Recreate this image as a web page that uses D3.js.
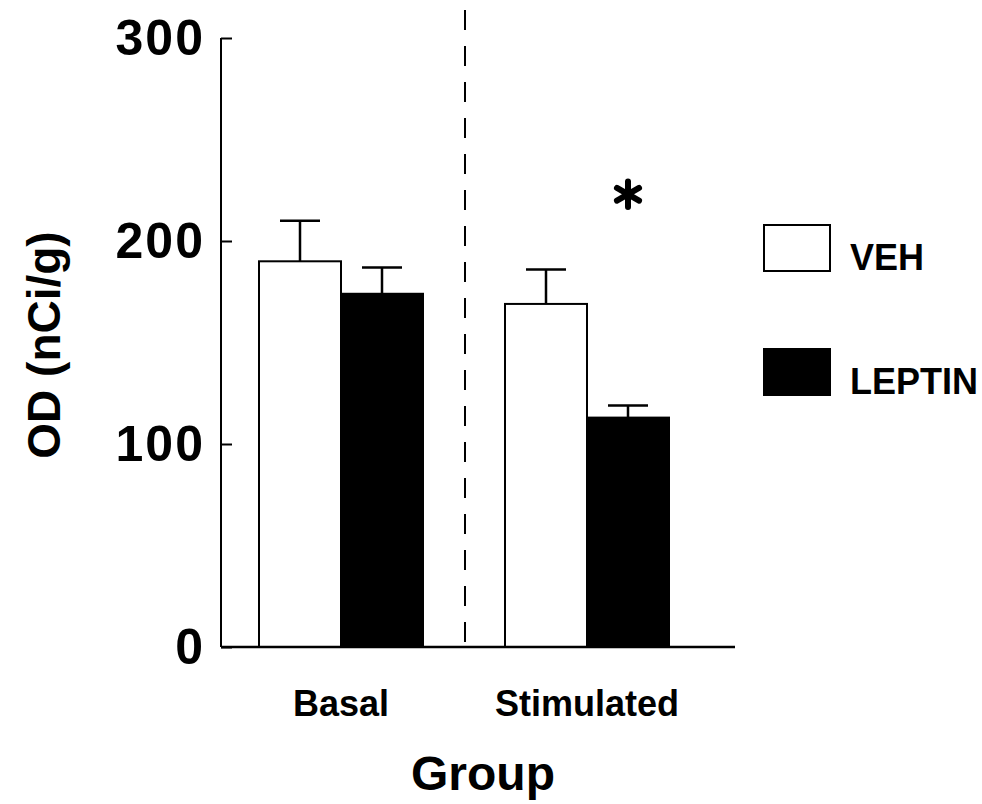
<!DOCTYPE html>
<html>
<head>
<meta charset="utf-8">
<script src="https://cdn.jsdelivr.net/npm/d3@7"></script>
<style>
  html, body { margin: 0; padding: 0; background: #fff; }
  svg { display: block; }
  text { font-family: "Liberation Sans", Arial, Helvetica, sans-serif; fill: #000; }
</style>
</head>
<body>
<svg id="chart" width="982" height="804"></svg>
<script>
// Groups, treatments and measured means with their error bars (OD, nCi/g)
const groups = ["Basal", "Stimulated"];
const treatments = ["VEH", "LEPTIN"];
const vehMeans = [190, 169];
const vehErrors = [20, 17];
const leptinMeans = [174, 113];
const leptinErrors = [13, 6];
const yTicks = [0, 100, 200, 300];
const significantValue = 223; // height of the "*" over Stimulated / LEPTIN

const rows = groups.flatMap((g, i) => [
  { group: g, treatment: "VEH", mean: vehMeans[i], err: vehErrors[i] },
  { group: g, treatment: "LEPTIN", mean: leptinMeans[i], err: leptinErrors[i] }
]);

const svg = d3.select("#chart");
const fill = { VEH: "#fff", LEPTIN: "#000" };

const y = d3.scaleLinear().domain([0, 300]).range([647, 38]);
const x0 = d3.scaleBand().domain(groups).range([218, 710]).padding(0);
const barW = 82;
const x1 = d3.scaleBand().domain(treatments)
  .range([x0.bandwidth() / 2 - barW, x0.bandwidth() / 2 + barW]).padding(0);

// Y axis with inward ticks
const yAxis = svg.append("g").attr("transform", "translate(221,0)")
  .call(d3.axisLeft(y).tickValues(yTicks).tickSize(-11).tickPadding(16));
yAxis.select(".domain").attr("stroke", "#000").attr("stroke-width", 2)
  .attr("d", `M0,${y(0)}V${y(300)}`);
yAxis.selectAll(".tick line").attr("stroke", "#000").attr("stroke-width", 2);
yAxis.selectAll(".tick text").attr("font-size", 50).attr("font-weight", "bold")
  .attr("letter-spacing", 2)
  .attr("font-family", "'Liberation Sans', Arial, sans-serif").attr("fill", "#000");

// Bars
const g = svg.append("g");
const groupsSel = g.selectAll("g.grp").data(groups).join("g")
  .attr("transform", d => `translate(${x0(d)},0)`);

groupsSel.selectAll("rect")
  .data(gr => rows.filter(r => r.group === gr))
  .join("rect")
  .attr("x", d => x1(d.treatment))
  .attr("y", d => y(d.mean))
  .attr("width", x1.bandwidth())
  .attr("height", d => y(0) - y(d.mean))
  .attr("fill", d => fill[d.treatment])
  .attr("stroke", "#000")
  .attr("stroke-width", 2);

// Error bars (upper only)
const capW = 40;
groupsSel.selectAll("path.err")
  .data(gr => rows.filter(r => r.group === gr))
  .join("path")
  .attr("class", "err")
  .attr("fill", "none")
  .attr("stroke", "#000")
  .attr("stroke-width", 2.5)
  .attr("d", d => {
    const cx = x1(d.treatment) + x1.bandwidth() / 2;
    return `M${cx},${y(d.mean)}V${y(d.mean + d.err)}M${cx - capW / 2},${y(d.mean + d.err)}H${cx + capW / 2}`;
  });

// X axis baseline
svg.append("line")
  .attr("x1", 221).attr("x2", 735)
  .attr("y1", y(0)).attr("y2", y(0))
  .attr("stroke", "#000").attr("stroke-width", 2.5);

// Dashed divider between groups
const divX = x0("Stimulated");
svg.append("line")
  .attr("x1", divX + 1).attr("x2", divX + 1)
  .attr("y1", 10).attr("y2", y(0))
  .attr("stroke", "#000").attr("stroke-width", 2)
  .attr("stroke-dasharray", "20,16");

// Group labels
svg.selectAll("text.grp").data(groups).join("text")
  .attr("class", "grp")
  .attr("x", d => x0(d) + x0.bandwidth() / 2)
  .attr("y", 716)
  .attr("text-anchor", "middle")
  .attr("font-size", 36)
  .attr("font-weight", "bold")
  .text(d => d);

// Axis titles
svg.append("text")
  .attr("x", 483).attr("y", 790)
  .attr("text-anchor", "middle")
  .attr("font-size", 48).attr("font-weight", "bold")
  .text("Group");

svg.append("text")
  .attr("transform", `translate(60,${345}) rotate(-90)`)
  .attr("text-anchor", "middle")
  .attr("font-size", 46).attr("font-weight", "bold")
  .text("OD (nCi/g)");

// Significance marker
const sigX = x0("Stimulated") + x1("LEPTIN") + x1.bandwidth() / 2;
svg.append("path")
  .attr("transform", `translate(${sigX},${y(significantValue)})`)
  .attr("d", d3.symbol(d3.symbolAsterisk, 460)())
  .attr("fill", "none").attr("stroke", "#000")
  .attr("stroke-width", 6).attr("stroke-linecap", "round");

// Legend
const legend = svg.append("g");
const legY = [225, 349];
treatments.forEach((t, i) => {
  legend.append("rect")
    .attr("x", 764).attr("y", legY[i])
    .attr("width", 66).attr("height", 46)
    .attr("fill", fill[t]).attr("stroke", "#000").attr("stroke-width", 2);
  legend.append("text")
    .attr("x", 850).attr("y", legY[i] + 45)
    .attr("font-size", 36).attr("font-weight", "bold")
    .text(t);
});
</script>
</body>
</html>
